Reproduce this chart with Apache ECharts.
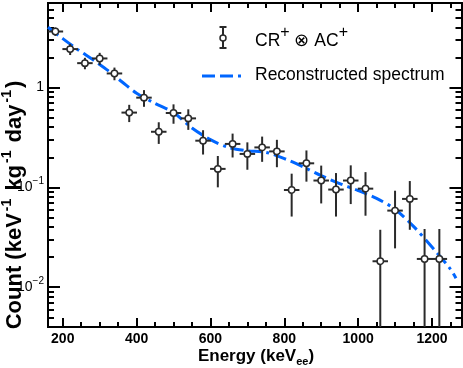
<!DOCTYPE html>
<html>
<head>
<meta charset="utf-8">
<script src="https://cdn.jsdelivr.net/npm/echarts@6/dist/echarts.min.js"></script>
<style>
  html, body { margin: 0; padding: 0; background: #fff; }
  #chart { width: 463px; height: 368px; }
</style>
</head>
<body>
<div id="chart"></div>
<script>
// measured points (bin centres, keV) with symmetric errors
var energy = [180, 220, 260, 300, 340, 380, 420, 460, 500, 540, 580, 620, 660, 700,
              740, 780, 820, 860, 900, 940, 980, 1020, 1060, 1100, 1140, 1180, 1220];
var count = [3.63, 2.42, 1.75, 1.95, 1.38, 0.56, 0.79, 0.36, 0.555, 0.49, 0.293, 0.153, 0.272, 0.216,
             0.251, 0.229, 0.094, 0.174, 0.117, 0.095, 0.117, 0.097, 0.0182, 0.0585, 0.0766, 0.0192, 0.0192];
var countErr = [0.35, 0.31, 0.23, 0.27, 0.2, 0.11, 0.15, 0.088, 0.122, 0.114, 0.08, 0.053, 0.073, 0.066,
                0.071, 0.07, 0.043, 0.06, 0.048, 0.044, 0.049, 0.045, 0.0194, 0.034, 0.039, 0.0191, 0.0191];
var binHalfWidth = 21;

// reconstructed spectrum
var specEnergy = [160, 200, 240, 280, 320, 360, 400, 450, 500, 550, 600, 650, 700, 750,
                  800, 850, 900, 950, 1000, 1050, 1100, 1150, 1200, 1250, 1265];
var specCount = [4.0, 3.08, 2.4, 1.91, 1.5, 1.14, 0.875, 0.692, 0.56, 0.393, 0.3, 0.25, 0.232, 0.224,
                 0.194, 0.161, 0.131, 0.109, 0.093, 0.0776, 0.0603, 0.0407, 0.0253, 0.0152, 0.0123];

var xMajorTicks = [200, 400, 600, 800, 1000, 1200];
var xMinorTicks = [200, 250, 300, 350, 400, 450, 500, 550, 600, 650, 700, 750, 800, 850, 900,
                   950, 1000, 1050, 1100, 1150, 1200, 1250];
var yMajorTicks = [0.01, 0.1, 1];
var yMinorTicks = [0.004, 0.005, 0.006, 0.007, 0.008, 0.009,
                   0.02, 0.03, 0.04, 0.05, 0.06, 0.07, 0.08, 0.09,
                   0.2, 0.3, 0.4, 0.5, 0.6, 0.7, 0.8, 0.9,
                   2, 3, 4, 5, 6, 7];

var xMin = 160, xMax = 1280, yMin = 0.004, yMax = 7;
var font = '"Liberation Sans", Arial, Helvetica, sans-serif';

var chart = echarts.init(document.getElementById('chart'));

function xAxisDef(position, ticks, len, withLabel) {
    return {
        type: 'value', min: xMin, max: xMax, position: position,
        axisLine: { show: true, onZero: false, lineStyle: { color: '#000', width: 2 } },
        axisTick: { show: true, inside: true, length: len, customValues: ticks,
                    lineStyle: { color: '#000', width: 2 } },
        axisLabel: withLabel ? {
            customValues: ticks, margin: 5, color: '#000', fontFamily: font,
            fontSize: 14, fontWeight: 'bold',
            formatter: function (v) { return String(v); }
        } : { show: false },
        splitLine: { show: false }
    };
}

function yAxisDef(position, ticks, len, withLabel) {
    return {
        type: 'log', logBase: 10, min: yMin, max: yMax, position: position,
        axisLine: { show: true, onZero: false, lineStyle: { color: '#000', width: 2 } },
        axisTick: { show: true, inside: true, length: len, customValues: ticks,
                    lineStyle: { color: '#000', width: 2 } },
        axisLabel: withLabel ? {
            customValues: ticks, margin: 4, color: '#000',
            formatter: function (v) {
                var p = Math.round(Math.log10(v));
                if (p === 0) return '{b|1}';
                return '{b|10}{s|\u2212' + (-p) + '}';
            },
            rich: {
                b: { fontSize: 14, fontFamily: font, color: '#000' },
                s: { fontSize: 10, fontFamily: font, color: '#000', padding: [0, 0, 12, 0] }
            }
        } : { show: false },
        splitLine: { show: false }
    };
}

function renderErrorBar(params, api) {
    var e = api.value(0), c = api.value(1), err = api.value(2);
    var lo = Math.max(c - err, yMin);
    var hi = c + err;
    var pC = api.coord([e, c]);
    var pL = api.coord([e - binHalfWidth, c]);
    var pR = api.coord([e + binHalfWidth, c]);
    var pLo = api.coord([e, lo]);
    var pHi = api.coord([e, hi]);
    var st = { stroke: '#2a2a2a', lineWidth: 2 };
    return {
        type: 'group',
        children: [
            { type: 'line', shape: { x1: pL[0], y1: pC[1], x2: pR[0], y2: pC[1] }, style: st },
            { type: 'line', shape: { x1: pC[0], y1: pLo[1], x2: pC[0], y2: pHi[1] }, style: st },
            { type: 'circle', shape: { cx: pC[0], cy: pC[1], r: 3.2 },
              style: { fill: '#fff', stroke: '#2a2a2a', lineWidth: 1.5 } }
        ]
    };
}

var blue = '#0066ff';
var dash = [13, 5, 13, 5, 3, 5];

var option = {
    animation: false,
    backgroundColor: '#fff',
    grid: { left: 48, right: 1.5, top: 3, bottom: 41 },
    xAxis: [
        xAxisDef('bottom', xMajorTicks, 9, true),
        xAxisDef('bottom', xMinorTicks, 5, false),
        xAxisDef('top', xMajorTicks, 9, false),
        xAxisDef('top', xMinorTicks, 5, false)
    ],
    yAxis: [
        yAxisDef('left', yMajorTicks, 12, true),
        yAxisDef('left', yMinorTicks, 6, false),
        yAxisDef('right', yMajorTicks, 12, false),
        yAxisDef('right', yMinorTicks, 6, false)
    ],
    series: [
        {
            type: 'line', xAxisIndex: 0, yAxisIndex: 0,
            data: specEnergy.map(function (e, i) { return [e, specCount[i]]; }),
            smooth: 0.3, showSymbol: false, symbol: 'none',
            lineStyle: { color: blue, width: 3, type: dash, cap: 'butt' },
            z: 2
        },
        {
            type: 'custom', xAxisIndex: 0, yAxisIndex: 0,
            data: energy.map(function (e, i) { return [e, count[i], countErr[i]]; }),
            encode: { x: 0, y: 1 },
            renderItem: renderErrorBar,
            clip: true,
            z: 3
        }
    ],
    graphic: [
        // y axis title
        {
            type: 'text', x: 15, y: 205, rotation: Math.PI / 2,
            style: {
                text: '{t|Count (keV}{s|-1}{t| kg}{s|-1}{t| day}{s|-1}{t|)}',
                align: 'center', verticalAlign: 'middle',
                rich: {
                    t: { fontSize: 22, fontWeight: 'bold', fontFamily: font, fill: '#000' },
                    s: { fontSize: 14, fontWeight: 'bold', fontFamily: font, fill: '#000', padding: [0, 2, 15, 2] }
                }
            }
        },
        // x axis title
        {
            type: 'text', x: 256, y: 356,
            style: {
                text: '{t|Energy (keV}{u|ee}{t|)}',
                align: 'center', verticalAlign: 'middle',
                rich: {
                    t: { fontSize: 17, fontWeight: 'bold', fontFamily: font, fill: '#000' },
                    u: { fontSize: 11, fontWeight: 'bold', fontFamily: font, fill: '#000', padding: [12, 0, 0, 0] }
                }
            }
        },
        // legend: data points
        { type: 'line', shape: { x1: 223, y1: 27, x2: 223, y2: 48 }, style: { stroke: '#2a2a2a', lineWidth: 2 } },
        { type: 'line', shape: { x1: 219.5, y1: 27, x2: 226.5, y2: 27 }, style: { stroke: '#2a2a2a', lineWidth: 2 } },
        { type: 'line', shape: { x1: 219.5, y1: 48, x2: 226.5, y2: 48 }, style: { stroke: '#2a2a2a', lineWidth: 2 } },
        { type: 'circle', shape: { cx: 223, cy: 38, r: 3 }, style: { fill: '#fff', stroke: '#2a2a2a', lineWidth: 1.5 } },
        {
            type: 'text', x: 255, y: 41,
            style: {
                text: '{t|CR}{s|+}{t| \u2297 AC}{s|+}',
                align: 'left', verticalAlign: 'middle',
                rich: {
                    t: { fontSize: 17.5, fontFamily: font, fill: '#000' },
                    s: { fontSize: 16, fontFamily: font, fill: '#000', padding: [0, 0, 16, 0] }
                }
            }
        },
        // legend: spectrum
        {
            type: 'line', shape: { x1: 202, y1: 76, x2: 243, y2: 76 },
            style: { stroke: blue, lineWidth: 3, lineDash: dash }
        },
        {
            type: 'text', x: 255, y: 75,
            style: {
                text: 'Reconstructed spectrum', align: 'left', verticalAlign: 'middle',
                fontSize: 17.5, fontFamily: font, fill: '#000'
            }
        }
    ]
};

chart.setOption(option);
</script>
</body>
</html>
